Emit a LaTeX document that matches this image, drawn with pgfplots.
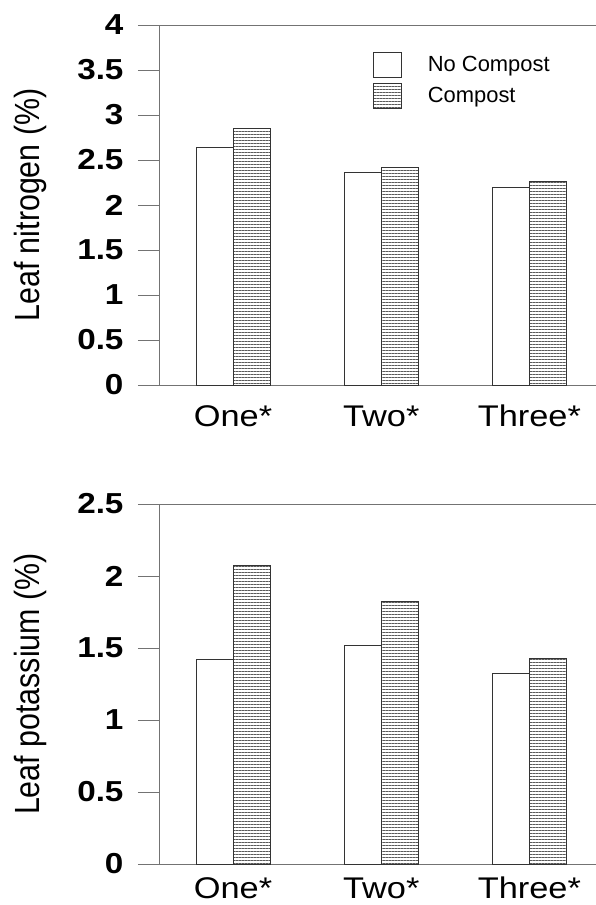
\documentclass[border=0pt]{standalone}
\usepackage{graphicx}
\usepackage{fontspec}
\setmainfont{Liberation Sans}
\newfontfamily\hfont{Liberation Sans}[FakeStretch=1.15]
\usepackage{pgfplots}
\pgfplotsset{compat=1.18}
\usetikzlibrary{patterns.meta}
\definecolor{axiscol}{gray}{0.45}
\definecolor{barcol}{gray}{0.2}

\pgfplotstableread{
x  nocomp comp
0  2.64   2.85
1  2.36   2.42
2  2.19   2.26
}\nitrogen
\pgfplotstableread{
x  nocomp comp
0  1.42   2.07
1  1.52   1.82
2  1.32   1.43
}\potassium

\pgfplotsset{
  panel/.style={
    scale only axis,
    width=437bp, height=360bp,
    xmin=-0.5, xmax=2.45,
    ymin=0,
    enlargelimits=false,
    axis lines*=left,
    axis line style={-, draw=axiscol, line width=1bp},
    xtick={0,1,2},
    xticklabels={One*,Two*,Three*},
    x tick style={draw=none},
    xtick align=inside,
    y tick style={draw=axiscol, line width=1bp},
    ytick align=outside,
    major tick length=21bp,
    /pgf/number format/assume math mode=true,
    yticklabel style={font=\hfont\bfseries\fontsize{29}{29}\selectfont, xshift=-11bp},
    xticklabel style={font=\hfont\fontsize{30}{30}\selectfont, yshift=5bp, text height=22bp, text depth=0bp},
    ylabel style={font=\fontsize{30.5}{30}\selectfont, at={(rel axis cs:0,0.5)}, anchor=center, xshift=0bp, yshift=129bp},
    ybar=0pt,
    bar width=37bp,
    white bar/.style={draw=barcol, fill=white, line width=0.9bp, bar shift=-18.5bp},
    hatch bar/.style={draw=barcol, line width=0.9bp, bar shift=18.5bp,
      pattern={Lines[angle=0,distance=3bp,line width=0.75bp]}, pattern color=black!65},
  }
}

\begin{document}
\begin{tikzpicture}
\begin{axis}[panel,
  at={(159bp,-385bp)}, anchor=south west,
  ymax=4, ytick={0,0.5,...,4},
  ylabel={\scalebox{1}[1.15]{Leaf nitrogen (\%)}},
  legend style={at={(rel axis cs:0.4897,0.925)}, anchor=north west, draw=none, fill=none,
    inner sep=0pt, outer sep=0pt, row sep=5bp,
    font=\fontsize{22}{22}\selectfont,
    /tikz/every odd column/.append style={column sep=24bp}},
  legend cell align=left,
  legend image code/.code={\draw[#1, bar shift=0pt] (0bp,-12.5bp) rectangle (28bp,12.5bp);},
]
\addplot[white bar] table[x=x, y=nocomp] {\nitrogen};
\addlegendentry{No Compost}
\addplot[hatch bar] table[x=x, y=comp] {\nitrogen};
\addlegendentry{Compost}
\draw[axiscol, line width=1bp] (rel axis cs:0,1) -- (rel axis cs:1,1);
\end{axis}

\begin{axis}[panel,
  at={(159bp,-864bp)}, anchor=south west,
  ymax=2.5, ytick={0,0.5,...,2.5},
  ylabel={\scalebox{1}[1.15]{Leaf potassium (\%)}},
  xticklabel style={yshift=7bp},
]
\addplot[white bar] table[x=x, y=nocomp] {\potassium};
\addplot[hatch bar] table[x=x, y=comp] {\potassium};
\draw[axiscol, line width=1bp] (rel axis cs:0,1) -- (rel axis cs:1,1);
\end{axis}
\pgfresetboundingbox
\useasboundingbox (0,0) rectangle (596bp,-905bp);
\end{tikzpicture}
\end{document}
